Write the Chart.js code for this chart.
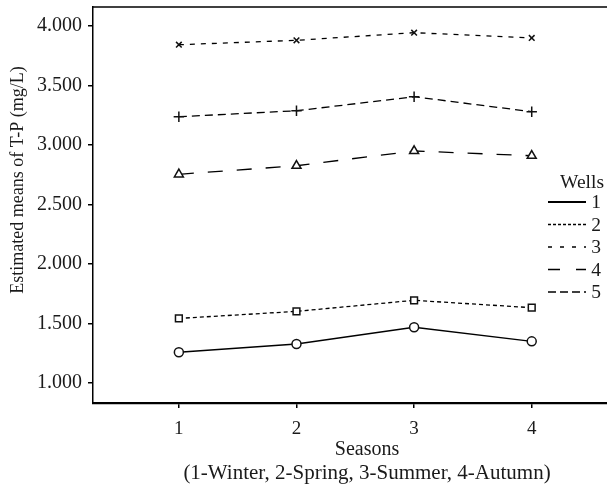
<!DOCTYPE html>
<html>
<head>
<meta charset="utf-8">
<script src="https://cdn.jsdelivr.net/npm/chart.js@4/dist/chart.umd.min.js"></script>
<style>
html,body{margin:0;padding:0;background:#fff;overflow:hidden;}
canvas{display:block;}
</style>
</head>
<body>
<canvas id="c" width="607" height="486"></canvas>
<script>
const seasons = [1, 2, 3, 4];
const yTickValues = [1.0, 1.5, 2.0, 2.5, 3.0, 3.5, 4.0];
const well1 = [1.258, 1.328, 1.468, 1.350];
const well2 = [1.543, 1.602, 1.695, 1.633];
const well3 = [3.843, 3.880, 3.944, 3.900];
const well4 = [2.754, 2.826, 2.950, 2.910];
const well5 = [3.238, 3.288, 3.406, 3.280];
const wellNames = ['1', '2', '3', '4', '5'];
const legendTitle = 'Wells';
const xTitle = ['Seasons', '(1-Winter, 2-Spring, 3-Summer, 4-Autumn)'];
const yTitle = 'Estimated means of T-P (mg/L)';

const FONT = '"Liberation Serif", "DejaVu Serif", serif';
const INK = '#1a1a1a';
const pts = arr => seasons.map((s, i) => ({x: s, y: arr[i]}));

function ds(label, data, dash, style, radius, width) {
  return {
    label, data: pts(data), borderColor: '#000', borderWidth: width || 1.3,
    borderDash: dash, pointStyle: style, pointRadius: radius,
    pointBorderColor: '#111', pointBackgroundColor: '#fff', pointBorderWidth: 1.5,
    fill: false, tension: 0
  };
}

const legendDashes = [[], [3, 2], [4, 8], [12, 16], [8, 4]];

const extras = {
  id: 'extras',
  afterDraw(chart) {
    const ctx = chart.ctx;
    const a = chart.chartArea;
    ctx.save();
    ctx.strokeStyle = '#000';
    ctx.lineWidth = 1.5;
    ctx.beginPath();
    ctx.moveTo(a.left, a.top);
    ctx.lineTo(chart.width, a.top);
    ctx.stroke();
    ctx.fillStyle = INK;
    ctx.textAlign = 'center';
    ctx.textBaseline = 'alphabetic';
    ctx.font = '20px ' + FONT;
    ctx.fillText(xTitle[0], 367, 455);
    ctx.font = '21px ' + FONT;
    ctx.fillText(xTitle[1], 367, 479);
    ctx.save();
    ctx.font = '18px ' + FONT;
    ctx.translate(23, 180);
    ctx.rotate(-Math.PI / 2);
    ctx.fillText(yTitle, 0, 0);
    ctx.restore();
    ctx.font = '19.5px ' + FONT;
    ctx.textAlign = 'right';
    ctx.fillText(legendTitle, 604, 188);
    wellNames.forEach((n, i) => {
      const y = 202 + i * 22.5;
      ctx.setLineDash(legendDashes[i]);
      ctx.lineWidth = i === 0 ? 2 : 1.5;
      ctx.beginPath();
      ctx.moveTo(548, y);
      ctx.lineTo(586, y);
      ctx.stroke();
      ctx.setLineDash([]);
      ctx.textAlign = 'center';
      ctx.textBaseline = 'middle';
      ctx.fillText(n, 596, y + 1);
    });
    ctx.restore();
  }
};

new Chart(document.getElementById('c'), {
  type: 'line',
  data: {
    datasets: [
      ds('1', well1, [], 'circle', 4.5, 1.4),
      ds('2', well2, [4, 3], 'rect', 4.8),
      ds('3', well3, [5, 6], 'crossRot', 4),
      ds('4', well4, [15, 14], 'triangle', 5.2),
      ds('5', well5, [8, 5], 'cross', 5.2)
    ]
  },
  options: {
    responsive: false,
    animation: false,
    layout: {autoPadding: false, padding: {top: 7, right: 0, left: 0, bottom: 0}},
    plugins: {legend: {display: false}, tooltip: {enabled: false}},
    scales: {
      x: {
        type: 'linear', min: 0.27, max: 4.64,
        afterBuildTicks: s => { s.ticks = seasons.map(v => ({value: v})); },
        afterFit: s => { s.height = 83; s.paddingLeft = 0; s.paddingRight = 0; },
        grid: {display: true, drawOnChartArea: false, drawTicks: true, tickLength: 5, color: '#000', lineWidth: 1.5},
        border: {display: true, color: '#000', width: 2.2},
        ticks: {color: INK, font: {family: FONT, size: 19}, padding: 10, callback: v => String(v)}
      },
      y: {
        min: 0.832, max: 4.16,
        afterBuildTicks: s => { s.ticks = yTickValues.map(v => ({value: v})); },
        afterFit: s => { s.width = 93; s.paddingTop = 0; s.paddingBottom = 0; },
        grid: {display: true, drawOnChartArea: false, drawTicks: true, tickLength: 5, color: '#000', lineWidth: 1.5},
        border: {display: true, color: '#000', width: 1.5},
        ticks: {color: INK, font: {family: FONT, size: 20}, padding: 6, callback: v => Number(v).toFixed(3)}
      }
    }
  },
  plugins: [extras]
});
</script>
</body>
</html>
